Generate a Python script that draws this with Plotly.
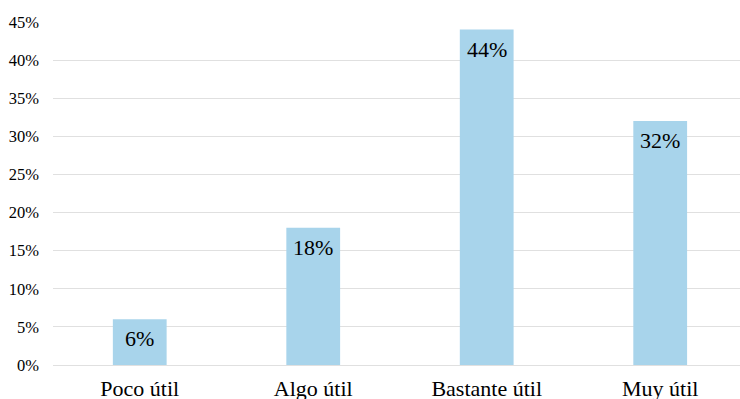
import plotly.graph_objects as go

categories = ["Poco útil", "Algo útil", "Bastante útil", "Muy útil"]
values = [6, 18, 44, 32]
labels = ["6%", "18%", "44%", "32%"]
y_ticks = [0, 5, 10, 15, 20, 25, 30, 35, 40, 45]
y_ticklabels = [f"{v}%" for v in y_ticks]

SERIF = "Liberation Serif, Times New Roman, serif"

fig = go.Figure(go.Bar(
    x=categories, y=values,
    marker=dict(color="#A8D4EB", line=dict(width=0)),
))

for c, v, t in zip(categories, values, labels):
    fig.add_annotation(
        x=c, y=v, text=t, showarrow=False,
        yanchor="top", yshift=-5,
        font=dict(family=SERIF, size=22, color="black"),
    )

fig.update_layout(
    width=740, height=399,
    margin=dict(l=53, r=0, t=22, b=34),
    paper_bgcolor="white", plot_bgcolor="white",
    bargap=0.69,
    showlegend=False,
    font=dict(family=SERIF, color="black"),
)
fig.update_xaxes(
    range=[-0.5, 3.46], showgrid=False, showline=False, ticks="",
    tickfont=dict(size=22, family=SERIF, color="black"),
    ticklabelstandoff=8, automargin=False,
)
fig.update_yaxes(
    range=[0, 45], tickvals=y_ticks, ticktext=y_ticklabels,
    showgrid=True, gridcolor="#E0E0E0", gridwidth=1.2,
    zeroline=True, zerolinecolor="#E0E0E0", zerolinewidth=1.2,
    showline=False, ticks="",
    tickfont=dict(size=16.5, family=SERIF, color="black"),
    ticklabelstandoff=13, automargin=False,
)
fig.write_html("out.html")
